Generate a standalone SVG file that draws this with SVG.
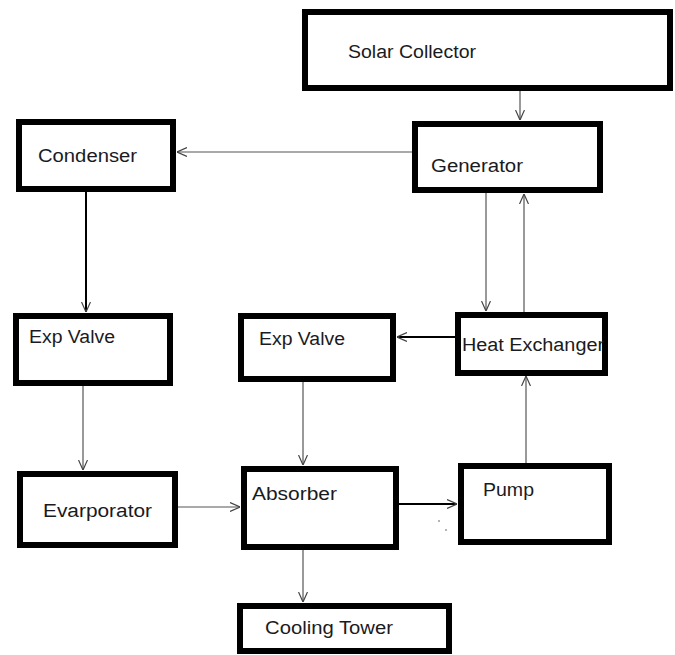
<svg xmlns="http://www.w3.org/2000/svg" width="675" height="655" viewBox="0 0 675 655">
<defs>
<style>
.box{fill:#fff;stroke:#000;stroke-width:6}
.lbl{font-family:"Liberation Sans",Arial,sans-serif;font-size:18px;fill:#1a1a22}
.ln{stroke:#555;stroke-width:1.2;fill:none}
.lnb{stroke:#000;stroke-width:2;fill:none}
</style>
<marker id="ah" viewBox="0 0 10 10" refX="10" refY="5" markerWidth="10" markerHeight="10" markerUnits="userSpaceOnUse" orient="auto">
<path d="M0,0.5 L10,5 L0,9.5" fill="none" stroke="#444" stroke-width="1.2"/>
</marker>
</defs>
<rect width="675" height="655" fill="#fff"/>
<g id="connectors">
<line class="ln" x1="520" y1="90" x2="520" y2="120" marker-end="url(#ah)"/>
<line class="ln" x1="412" y1="152" x2="177" y2="152" marker-end="url(#ah)"/>
<line class="lnb" x1="86" y1="192" x2="86" y2="312" marker-end="url(#ah)"/>
<line class="ln" x1="486" y1="193" x2="486" y2="311" marker-end="url(#ah)"/>
<line class="ln" x1="524" y1="312" x2="524" y2="194" marker-end="url(#ah)"/>
<line class="lnb" x1="455" y1="337" x2="397" y2="337" marker-end="url(#ah)"/>
<line class="ln" x1="83" y1="386" x2="83" y2="470" marker-end="url(#ah)"/>
<line class="ln" x1="303" y1="382" x2="303" y2="465" marker-end="url(#ah)"/>
<line class="ln" x1="178" y1="507" x2="240" y2="507" marker-end="url(#ah)"/>
<line class="lnb" x1="399" y1="504" x2="457" y2="504" marker-end="url(#ah)"/>
<line class="ln" x1="526" y1="463" x2="526" y2="376" marker-end="url(#ah)"/>
<line class="ln" x1="303" y1="550" x2="303" y2="602" marker-end="url(#ah)"/>
<circle cx="439" cy="521" r="0.8" fill="#555"/>
<circle cx="446" cy="530" r="0.8" fill="#555"/>
</g>
<g id="solar-collector"><rect class="box" x="305" y="12" width="365" height="76"/><text class="lbl" x="348" y="58" textLength="128" lengthAdjust="spacingAndGlyphs">Solar Collector</text></g>
<g id="generator"><rect class="box" x="415" y="124" width="185" height="66"/><text class="lbl" x="431" y="172" textLength="92" lengthAdjust="spacingAndGlyphs">Generator</text></g>
<g id="condenser"><rect class="box" x="19" y="122" width="154" height="67"/><text class="lbl" x="38" y="162" textLength="99" lengthAdjust="spacingAndGlyphs">Condenser</text></g>
<g id="exp-valve-1"><rect class="box" x="16" y="316" width="154" height="67"/><text class="lbl" x="29" y="343" textLength="86" lengthAdjust="spacingAndGlyphs">Exp Valve</text></g>
<g id="exp-valve-2"><rect class="box" x="241" y="316" width="152" height="63"/><text class="lbl" x="259" y="345" textLength="86" lengthAdjust="spacingAndGlyphs">Exp Valve</text></g>
<g id="heat-exchanger"><rect class="box" x="458" y="315" width="147" height="58"/><text class="lbl" x="462" y="351" textLength="142" lengthAdjust="spacingAndGlyphs">Heat Exchanger</text></g>
<g id="evaporator"><rect class="box" x="20" y="474" width="155" height="71"/><text class="lbl" x="43" y="517" textLength="109" lengthAdjust="spacingAndGlyphs">Evarporator</text></g>
<g id="absorber"><rect class="box" x="244" y="469" width="152" height="78"/><text class="lbl" x="252" y="500" textLength="85" lengthAdjust="spacingAndGlyphs">Absorber</text></g>
<g id="pump"><rect class="box" x="461" y="466" width="148" height="76"/><text class="lbl" x="483" y="496" textLength="51" lengthAdjust="spacingAndGlyphs">Pump</text></g>
<g id="cooling-tower"><rect class="box" x="240" y="606" width="209" height="45"/><text class="lbl" x="265" y="634" textLength="128" lengthAdjust="spacingAndGlyphs">Cooling Tower</text></g>
</svg>
